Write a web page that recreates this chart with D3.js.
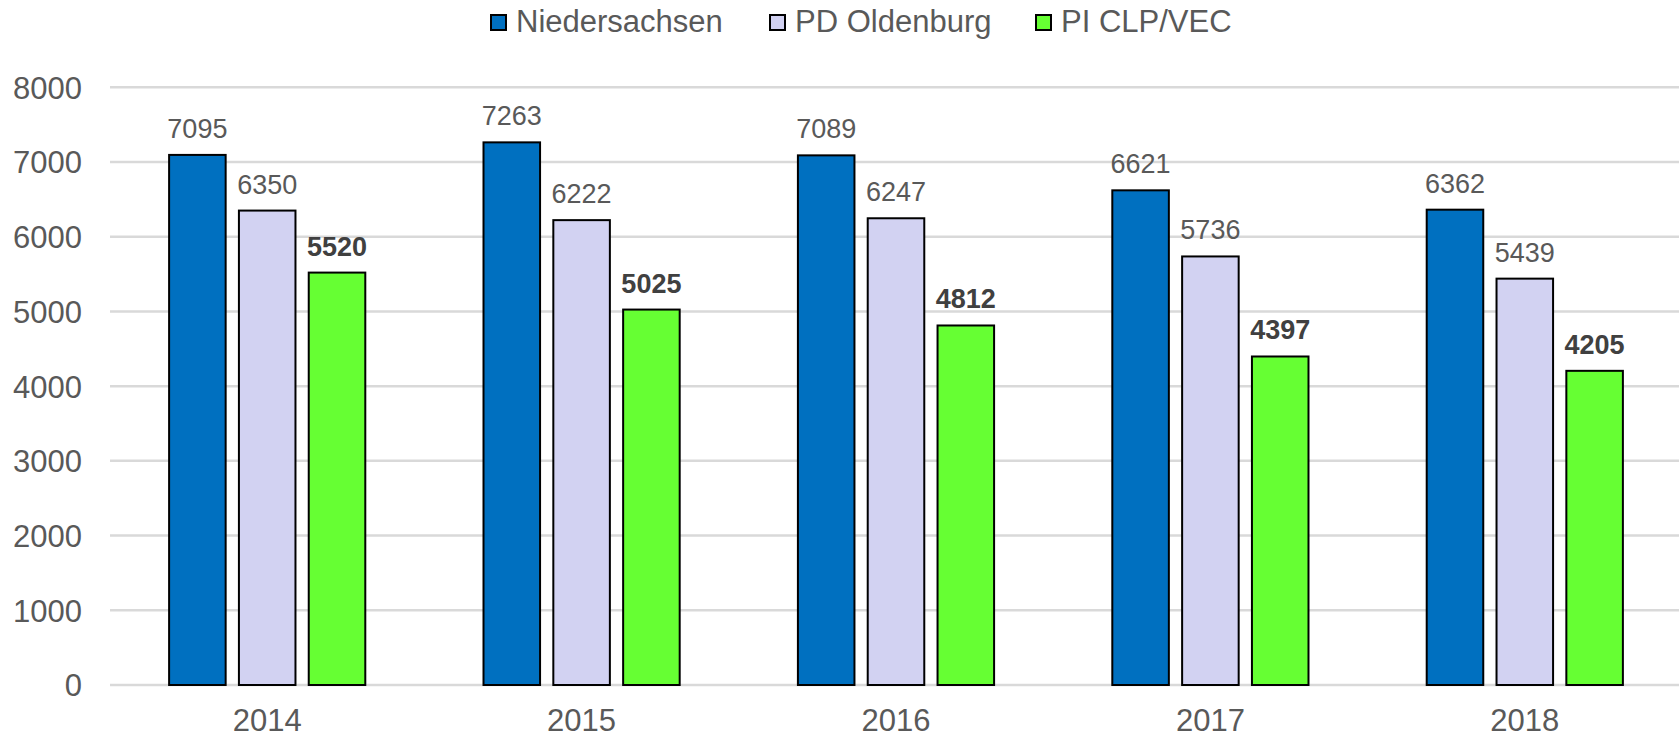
<!DOCTYPE html>
<html>
<head>
<meta charset="utf-8">
<script src="https://cdn.jsdelivr.net/npm/d3@7"></script>
<style>
  body { margin: 0; background: #fff; }
  svg { display: block; font-family: Arial, 'Liberation Sans', sans-serif; }
</style>
</head>
<body>
<svg width="1679" height="737"></svg>
<script>
let years = ['2014', '2015', '2016', '2017', '2018']
let niedersachsen = [7095, 7263, 7089, 6621, 6362]
let pdOldenburg = [6350, 6222, 6247, 5736, 5439]
let piClpVec = [5520, 5025, 4812, 4397, 4205]
let seriesNames = ['Niedersachsen', 'PD Oldenburg', 'PI CLP/VEC']
let seriesColors = ['#0070C0', '#D2D2F2', '#66FF33']
let yTicks = [0, 1000, 2000, 3000, 4000, 5000, 6000, 7000, 8000]

let series = [niedersachsen, pdOldenburg, piClpVec]

let svg = d3.select('svg')

let x = d3.scaleBand()
  .domain(years)
  .range([110, 1682])
  .paddingInner(0.376)
  .paddingOuter(0.188)

let xSub = d3.scaleBand()
  .domain(d3.range(3))
  .range([0, x.bandwidth()])
  .paddingInner(0.19)

let y = d3.scaleLinear()
  .domain([0, 8000])
  .range([685, 87.3])

// gridlines
svg.append('g')
  .selectAll('line')
  .data(yTicks)
  .enter()
  .append('line')
  .attr('x1', 110)
  .attr('x2', 1679)
  .attr('y1', d => y(d))
  .attr('y2', d => y(d))
  .attr('stroke', '#D9D9D9')
  .attr('stroke-width', 2.5)

// y axis labels
let yAxis = d3.axisLeft(y)
  .tickValues(yTicks)
  .tickFormat(d3.format('d'))
  .tickSize(0)
  .tickPadding(0)
svg.append('g')
  .attr('transform', 'translate(82, 0)')
  .call(yAxis)
  .call(g => g.select('.domain').remove())
  .selectAll('text')
  .attr('font-size', 31)
  .attr('fill', '#595959')
  .attr('dy', '0.35em')

// x axis labels
let xAxis = d3.axisBottom(x).tickSize(0).tickPadding(0)
svg.append('g')
  .attr('transform', 'translate(0, 731)')
  .call(xAxis)
  .call(g => g.select('.domain').remove())
  .selectAll('text')
  .attr('font-size', 31)
  .attr('fill', '#595959')
  .attr('dy', 0)
  .attr('y', 0)

// bars
let groups = svg.append('g')
  .selectAll('g')
  .data(years)
  .enter()
  .append('g')
  .attr('transform', d => 'translate(' + x(d) + ',0)')

groups.each(function (yr, i) {
  let g = d3.select(this)
  series.forEach((s, k) => {
    let v = s[i]
    g.append('rect')
      .attr('x', xSub(k))
      .attr('y', y(v))
      .attr('width', xSub.bandwidth())
      .attr('height', y(0) - y(v))
      .attr('fill', seriesColors[k])
      .attr('stroke', '#000')
      .attr('stroke-width', 2)

    g.append('text')
      .attr('x', xSub(k) + xSub.bandwidth() / 2)
      .attr('y', y(v) - 17)
      .attr('text-anchor', 'middle')
      .attr('font-size', 27)
      .attr('font-weight', k === 2 ? 'bold' : 'normal')
      .attr('fill', k === 2 ? '#404040' : '#595959')
      .text(v)
  })
})

// legend
let legendX = [491, 770, 1036]
let legend = svg.append('g')
  .selectAll('g')
  .data(seriesNames)
  .enter()
  .append('g')
  .attr('transform', (d, i) => 'translate(' + legendX[i] + ',0)')

legend.append('rect')
  .attr('x', 0)
  .attr('y', 15)
  .attr('width', 15)
  .attr('height', 15)
  .attr('fill', (d, i) => seriesColors[i])
  .attr('stroke', '#000')
  .attr('stroke-width', 2)

legend.append('text')
  .attr('x', 25)
  .attr('y', 32)
  .attr('font-size', 31)
  .attr('fill', '#595959')
  .text(d => d)
</script>
</body>
</html>
